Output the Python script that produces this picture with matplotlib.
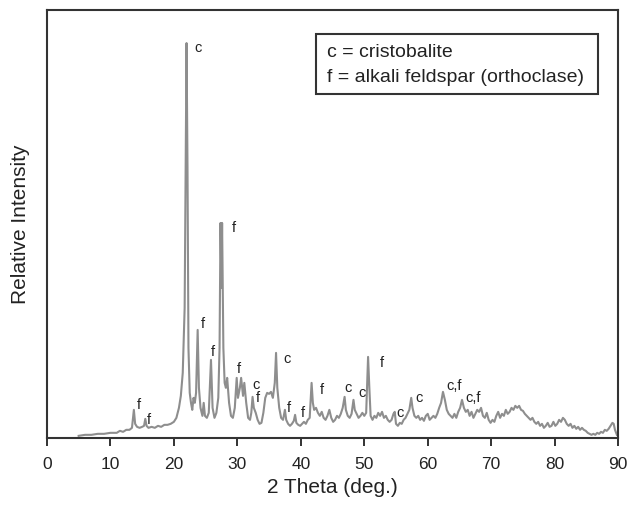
import matplotlib
matplotlib.use("Agg")
import matplotlib.pyplot as plt
from matplotlib.patches import Rectangle

plt.rcParams['font.family'] = ['Liberation Sans', 'DejaVu Sans']

# XRD pattern: 2-theta (deg.) and relative intensity (arbitrary units)
two_theta = [
    5.0, 6.0, 7.0, 8.0, 9.0, 10.0, 11.0, 11.5, 12.0, 12.5, 13.0, 13.4, 13.7, 13.9, 14.2,
    14.6, 15.0, 15.3, 15.5, 15.7, 16.0, 16.5, 17.0, 17.5, 18.0, 18.5, 19.0, 19.5, 20.0,
    20.4, 20.8, 21.1, 21.4, 21.7, 21.85, 22.0, 22.15, 22.3, 22.5, 22.7, 22.9, 23.1, 23.3,
    23.5, 23.75, 23.95, 24.2, 24.5, 24.7, 24.9, 25.2, 25.5, 25.85, 26.1, 26.4, 26.7, 27.0,
    27.2, 27.35, 27.5, 27.6, 27.8, 28.0, 28.2, 28.4, 28.7, 29.0, 29.3, 29.6, 29.9, 30.1,
    30.4, 30.6, 30.9, 31.1, 31.4, 31.7, 32.0, 32.2, 32.4, 32.6, 32.9, 33.2, 33.5, 33.8,
    34.1, 34.4, 34.7, 35.0, 35.3, 35.6, 35.9, 36.1, 36.3, 36.6, 36.9, 37.2, 37.5, 37.7,
    38.0, 38.3, 38.6, 38.9, 39.1, 39.3, 39.6, 39.9, 40.2, 40.5, 40.8, 41.1, 41.4, 41.7,
    41.9, 42.1, 42.4, 42.7, 43.0, 43.3, 43.6, 43.9, 44.2, 44.5, 44.8, 45.1, 45.4, 45.7,
    46.0, 46.3, 46.6, 46.9, 47.1, 47.4, 47.7, 48.0, 48.3, 48.5, 48.8, 49.1, 49.4, 49.7,
    50.0, 50.3, 50.6, 50.8, 51.0, 51.3, 51.6, 51.9, 52.2, 52.5, 52.8, 53.1, 53.4, 53.7,
    54.0, 54.3, 54.6, 54.8, 55.0, 55.3, 55.6, 55.9, 56.2, 56.5, 56.8, 57.1, 57.4, 57.6,
    57.9, 58.2, 58.5, 58.8, 59.1, 59.4, 59.7, 60.0, 60.3, 60.6, 60.9, 61.2, 61.5, 61.8,
    62.1, 62.4, 62.7, 63.0, 63.3, 63.6, 63.9, 64.2, 64.5, 64.8, 65.1, 65.4, 65.7, 66.0,
    66.3, 66.6, 66.9, 67.2, 67.5, 67.8, 68.1, 68.4, 68.7, 69.0, 69.3, 69.6, 69.9, 70.2,
    70.5, 70.8, 71.1, 71.4, 71.7, 72.0, 72.3, 72.6, 72.9, 73.2, 73.5, 73.8, 74.1, 74.4,
    74.7, 75.0, 75.3, 75.6, 75.9, 76.2, 76.5, 76.8, 77.1, 77.4, 77.7, 78.0, 78.3, 78.6,
    78.9, 79.2, 79.5, 79.8, 80.1, 80.4, 80.7, 81.0, 81.3, 81.6, 81.9, 82.2, 82.5, 82.8,
    83.1, 83.4, 83.7, 84.0, 84.3, 84.6, 84.9, 85.2, 85.5, 85.8, 86.1, 86.4, 86.7, 87.0,
    87.3, 87.6, 87.9, 88.2, 88.5, 88.8, 89.1, 89.3, 89.5, 89.8,
]
intensity = [
    2, 3, 3, 4, 4, 5, 5, 7, 6, 8, 8, 10, 28, 14, 11,
    10, 11, 12, 19, 12, 10, 11, 10, 12, 11, 13, 13, 14, 16,
    20, 30, 42, 65, 130, 270, 395, 270, 90, 45, 35, 28, 40, 35,
    45, 108, 50, 30, 22, 35, 22, 20, 25, 78, 30, 20, 25, 40,
    90, 215, 150, 215, 90, 55, 50, 60, 35, 22, 20, 30, 60, 40,
    50, 60, 42, 55, 35, 20, 18, 25, 41, 30, 25, 18, 14, 15,
    25, 40, 45, 44, 46, 40, 55, 85, 50, 30, 20, 18, 28, 18,
    14, 12, 14, 17, 23, 15, 13, 12, 14, 16, 14, 18, 20, 55,
    35, 28, 30, 25, 22, 26, 20, 18, 22, 28, 20, 16, 18, 22,
    20, 24, 30, 41, 28, 22, 20, 24, 38, 28, 24, 20, 22, 25,
    22, 25, 81, 50, 22, 18, 22, 20, 25, 22, 26, 20, 22, 18,
    16, 18, 24, 26, 14, 12, 15, 14, 18, 20, 24, 28, 40, 30,
    22, 20, 22, 18, 20, 17, 22, 24, 18, 20, 22, 20, 24, 30,
    35, 46, 38, 28, 24, 22, 20, 24, 20, 26, 30, 38, 30, 26,
    28, 22, 26, 20, 24, 28, 26, 30, 22, 20, 25, 18, 15, 18,
    16, 22, 26, 20, 24, 22, 28, 24, 26, 30, 28, 32, 30, 32,
    28, 27, 24, 22, 20, 18, 20, 16, 14, 16, 12, 14, 10, 12,
    15, 11, 12, 16, 12, 14, 18, 16, 20, 18, 14, 12, 14, 10,
    12, 9, 11, 8, 10, 8, 7, 5, 4, 3, 4, 3, 5, 4,
    6, 5, 8, 7, 9, 12, 15, 14, 8, 3,
]

# Phase labels: text, 2-theta position, intensity position
peak_labels = ["f", "f", "c", "f", "f", "f", "f", "c", "f", "c", "f", "f",
               "f", "c", "c", "f", "c", "c", "c,f", "c,f"]
label_x = [14.5, 16.1, 23.8, 24.6, 26.1, 29.4, 30.3, 33.0, 33.3, 37.9, 38.2, 40.3,
           43.3, 47.5, 49.6, 52.7, 55.6, 58.6, 64.1, 67.1]
label_y = [33, 18, 390, 114, 86, 210, 69, 53, 40, 79, 30, 25,
           48, 50, 45, 75, 25, 40, 52, 40]

legend_lines = ["c = cristobalite", "f = alkali feldspar (orthoclase)"]

fig = plt.figure(figsize=(6.34, 5.05), dpi=100)
ax = fig.add_axes([0.074, 0.133, 0.901, 0.847])

ax.plot(two_theta, intensity, color="#8e8e8e", lw=1.5, solid_joinstyle="round")

for txt, xv, yv in zip(peak_labels, label_x, label_y):
    ax.text(xv, yv, txt, ha="center", va="center", fontsize=10.5, color="#222222")

ax.set_xlim(0, 90)
ax.set_ylim(0, 428)
ax.set_xticks(range(0, 91, 10))
ax.set_yticks([])
ax.tick_params(axis="x", direction="out", length=6, width=1.3, labelsize=12.5,
               colors="#222222", pad=8)
for sp in ax.spines.values():
    sp.set_linewidth(1.5)
    sp.set_color("#333333")

ax.set_xlabel("2 Theta (deg.)", fontsize=15, color="#222222", labelpad=4)
ax.set_ylabel("Relative Intensity", fontsize=15, color="#222222", labelpad=12)

# legend box with the phase key
ax.add_patch(Rectangle((0.471, 0.804), 0.494, 0.140, transform=ax.transAxes,
                       fill=False, edgecolor="#333333", lw=1.5))
ax.text(0.490, 0.902, legend_lines[0], transform=ax.transAxes, ha="left",
        va="center", fontsize=14, color="#222222")
ax.text(0.490, 0.843, legend_lines[1], transform=ax.transAxes, ha="left",
        va="center", fontsize=14, color="#222222")

fig.savefig("out.png", dpi=100, facecolor="white")
